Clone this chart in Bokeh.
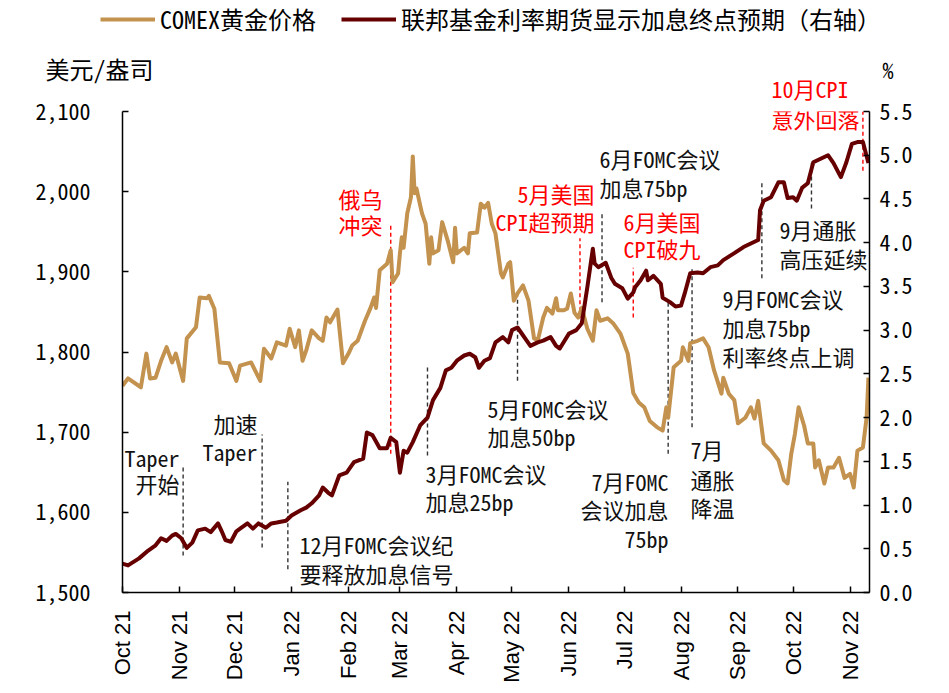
import math
import pandas as pd
from bokeh.plotting import figure
from bokeh.layouts import column
from bokeh.models import (Range1d, LinearAxis, FixedTicker, NumeralTickFormatter,
                          DatetimeTickFormatter, Label, Legend, LegendItem)
from bokeh.embed import file_html
from bokeh.resources import INLINE

# ---------------- data ----------------
gold_dates = ["2021-10-01","2021-10-04","2021-10-11","2021-10-14","2021-10-16","2021-10-19","2021-10-22","2021-10-25","2021-10-28","2021-10-30",
    "2021-11-03","2021-11-05","2021-11-10","2021-11-12","2021-11-16","2021-11-17","2021-11-20","2021-11-23","2021-11-28",
    "2021-12-02","2021-12-04","2021-12-10","2021-12-15","2021-12-17","2021-12-21","2021-12-24","2021-12-29","2021-12-31",
    "2022-01-03","2022-01-05","2022-01-07","2022-01-09","2022-01-12","2022-01-16","2022-01-18","2022-01-20","2022-01-22","2022-01-26","2022-01-29",
    "2022-02-01","2022-02-03","2022-02-06","2022-02-10","2022-02-13","2022-02-15","2022-02-16","2022-02-18","2022-02-22","2022-02-24","2022-02-25","2022-02-28",
    "2022-03-01","2022-03-02","2022-03-03","2022-03-05","2022-03-07","2022-03-08","2022-03-09","2022-03-10","2022-03-13","2022-03-15","2022-03-17","2022-03-18","2022-03-19","2022-03-22","2022-03-24","2022-03-27","2022-03-30","2022-03-31",
    "2022-04-01","2022-04-05","2022-04-07","2022-04-08","2022-04-12","2022-04-14","2022-04-16","2022-04-18","2022-04-20","2022-04-22","2022-04-25","2022-04-26","2022-04-29","2022-04-30",
    "2022-05-02","2022-05-04","2022-05-07","2022-05-10","2022-05-13","2022-05-15","2022-05-18","2022-05-20","2022-05-23","2022-05-25","2022-05-26","2022-05-29","2022-05-31",
    "2022-06-02","2022-06-04","2022-06-06","2022-06-08","2022-06-11","2022-06-14","2022-06-16","2022-06-18","2022-06-22","2022-06-25","2022-06-29",
    "2022-07-03","2022-07-06","2022-07-09","2022-07-12","2022-07-15","2022-07-19","2022-07-22","2022-07-24","2022-07-25","2022-07-28",
    "2022-08-01","2022-08-02","2022-08-05","2022-08-06","2022-08-10","2022-08-13","2022-08-16","2022-08-19","2022-08-23","2022-08-24","2022-08-27","2022-08-30",
    "2022-09-01","2022-09-05","2022-09-08","2022-09-10","2022-09-12","2022-09-15","2022-09-19","2022-09-23","2022-09-26","2022-09-28","2022-09-30",
    "2022-10-02","2022-10-04","2022-10-07","2022-10-09","2022-10-12","2022-10-13","2022-10-15","2022-10-18","2022-10-20","2022-10-23","2022-10-26","2022-10-29",
    "2022-11-01","2022-11-03","2022-11-05","2022-11-08","2022-11-10","2022-11-11"]
gold_price = [1758,1767,1756,1798,1767,1768,1789,1806,1787,1798,
    1764,1817,1831,1868,1867,1870,1854,1787,1786,
    1764,1783,1787,1764,1804,1792,1812,1808,1829,
    1806,1827,1789,1802,1827,1817,1814,1843,1837,1853,1786,
    1798,1808,1814,1839,1855,1868,1855,1902,1910,1927,1887,1898,
    1923,1943,1930,1973,1993,2044,1998,2004,1973,1960,1910,1943,1923,1927,1962,1939,1912,1955,
    1923,1930,1923,1948,1949,1985,1980,1986,1960,1948,1898,1893,1910,1912,
    1864,1873,1883,1864,1817,1814,1843,1855,1848,1867,1852,1852,1854,
    1873,1849,1843,1855,1829,1814,1852,1839,1842,1836,1823,
    1798,1749,1737,1731,1714,1706,1702,1731,1718,1781,
    1789,1806,1789,1811,1814,1817,1806,1777,1748,1768,1748,1740,
    1711,1718,1731,1717,1739,1686,1677,1665,1640,1636,1673,
    1698,1731,1708,1686,1686,1656,1665,1636,1656,1656,1668,1643,
    1648,1631,1677,1681,1718,1768]

rate_dates = ["2021-10-01","2021-10-04","2021-10-10","2021-10-15","2021-10-19","2021-10-22","2021-10-25","2021-10-28","2021-10-30",
    "2021-11-02","2021-11-05","2021-11-08","2021-11-11","2021-11-15","2021-11-18","2021-11-22","2021-11-24","2021-11-26","2021-11-29",
    "2021-12-02","2021-12-04","2021-12-08","2021-12-11","2021-12-14","2021-12-18","2021-12-21","2021-12-24","2021-12-29",
    "2022-01-01","2022-01-06","2022-01-09","2022-01-12","2022-01-16","2022-01-18","2022-01-21","2022-01-23","2022-01-27","2022-01-31",
    "2022-02-04","2022-02-09","2022-02-11","2022-02-14","2022-02-18","2022-02-22","2022-02-24","2022-02-27",
    "2022-03-01","2022-03-03","2022-03-05","2022-03-08","2022-03-12","2022-03-16","2022-03-19","2022-03-23","2022-03-26","2022-03-29",
    "2022-04-01","2022-04-05","2022-04-08","2022-04-11","2022-04-13","2022-04-16","2022-04-19","2022-04-22","2022-04-26","2022-04-29",
    "2022-05-01","2022-05-04","2022-05-06","2022-05-09","2022-05-11","2022-05-15","2022-05-18","2022-05-22","2022-05-25","2022-05-27",
    "2022-06-01","2022-06-05","2022-06-08","2022-06-11","2022-06-14","2022-06-15","2022-06-17","2022-06-21","2022-06-24","2022-06-26","2022-06-30",
    "2022-07-03","2022-07-06","2022-07-07","2022-07-10","2022-07-13","2022-07-14","2022-07-17","2022-07-21","2022-07-22","2022-07-26","2022-07-29",
    "2022-08-01","2022-08-03","2022-08-06","2022-08-10","2022-08-13","2022-08-17","2022-08-21","2022-08-24","2022-08-30",
    "2022-09-04","2022-09-08","2022-09-12","2022-09-13","2022-09-15","2022-09-19","2022-09-23","2022-09-26","2022-09-28",
    "2022-10-01","2022-10-03","2022-10-06","2022-10-09","2022-10-12","2022-10-16","2022-10-20","2022-10-23","2022-10-27","2022-10-30",
    "2022-11-02","2022-11-05","2022-11-08","2022-11-11"]
rate_terminal = [0.33,0.31,0.39,0.48,0.54,0.62,0.59,0.65,0.67,
    0.62,0.51,0.57,0.71,0.73,0.69,0.79,0.70,0.60,0.58,
    0.70,0.73,0.79,0.73,0.79,0.74,0.79,0.80,0.82,
    0.88,0.94,0.97,1.02,1.11,1.20,1.14,1.11,1.34,1.37,
    1.49,1.53,1.83,1.80,1.65,1.65,1.77,1.72,
    1.37,1.62,1.60,1.72,1.91,2.00,2.20,2.34,2.54,2.57,
    2.65,2.71,2.73,2.69,2.57,2.65,2.68,2.86,2.92,2.86,
    3.00,3.03,2.97,2.88,2.82,2.86,2.88,2.92,2.82,2.79,
    2.96,3.00,3.08,3.49,3.93,3.76,3.72,3.77,3.60,3.53,3.48,
    3.36,3.43,3.49,3.57,3.68,3.57,3.62,3.53,3.37,3.32,3.27,
    3.28,3.42,3.65,3.66,3.65,3.72,3.74,3.80,3.88,
    3.95,3.99,4.03,4.37,4.48,4.52,4.69,4.69,4.51,
    4.52,4.48,4.63,4.68,4.92,4.96,5.00,4.91,4.75,4.92,
    5.13,5.15,5.15,4.91]

month_ticks = ["2021-10-01","2021-11-01","2021-12-01","2022-01-01","2022-02-01","2022-03-01","2022-04-01",
               "2022-05-01","2022-06-01","2022-07-01","2022-08-01","2022-09-01","2022-10-01","2022-11-01"]
left_ticks = [1500, 1600, 1700, 1800, 1900, 2000, 2100]
right_ticks = [0.0, 0.5, 1.0, 1.5, 2.0, 2.5, 3.0, 3.5, 4.0, 4.5, 5.0, 5.5]

# event markers: date, from, to (left-axis units), highlighted?
event_dates = ["2021-11-03","2021-12-16","2021-12-30","2022-02-24","2022-03-16","2022-05-04","2022-06-07",
               "2022-06-19","2022-07-06","2022-07-25","2022-08-07","2022-09-14","2022-10-11","2022-11-08"]
event_from = [1546, 1556, 1529, 1673, 1671, 1764, 1842, 1862, 1843, 1673, 1706, 1892, 1979, 2026]
event_to   = [1656, 1697, 1638, 1961, 1782, 1870, 1942, 1973, 1905, 1864, 1905, 2014, 2036, 2100]
event_red  = [False, False, False, True, False, False, True, False, True, False, False, False, False, True]

series_names = ["COMEX黄金价格", "联邦基金利率期货显示加息终点预期（右轴）"]

GOLD = "#C3924F"
DARK = "#660000"
RED = "#FF0000"
INK = "#111111"
FONT = "Noto Sans Mono CJK SC, Noto Sans CJK SC"

W = 938
HEAD_H = 40
MAIN_H = 648

gx = pd.to_datetime(gold_dates)
rx = pd.to_datetime(rate_dates)
ex = pd.to_datetime(event_dates)

# ---------------- header strip (legend) ----------------
head = figure(width=W, height=HEAD_H, output_backend="svg", toolbar_location=None,
              x_axis_location=None, y_axis_location=None,
              x_range=Range1d(0, W), y_range=Range1d(0, HEAD_H),
              min_border_left=0, min_border_right=0, min_border_top=0, min_border_bottom=0)
if "frame_align" in head.properties():
    head.frame_align = False
head.outline_line_color = None
head.grid.visible = False
# legend proxies (series drawn far outside this strip's visible area)
hg = head.line(gx, gold_price, line_color=GOLD, line_width=4)
hr = head.line(rx, rate_terminal, line_color=DARK, line_width=4)
legend = Legend(items=[LegendItem(label=series_names[0], renderers=[hg]),
                       LegendItem(label=series_names[1], renderers=[hr])],
                orientation="horizontal", location=(100, 4), glyph_width=55, glyph_height=28,
                label_height=28, label_standoff=5, spacing=25, padding=0, margin=0,
                border_line_color=None, background_fill_alpha=0,
                label_text_font=FONT, label_text_font_size="24px", label_text_color="black")
head.add_layout(legend)

# ---------------- main chart ----------------
p = figure(width=W, height=MAIN_H, x_axis_type="datetime", output_backend="svg", toolbar_location=None,
           x_range=Range1d(pd.Timestamp("2021-10-01"), pd.Timestamp("2022-11-11 14:00")),
           y_range=Range1d(1500, 2100),
           min_border_left=122, min_border_right=69, min_border_top=71, min_border_bottom=96)
if "frame_align" in p.properties():
    p.frame_align = False
p.outline_line_color = None
p.grid.visible = False
p.extra_y_ranges = {"rate": Range1d(0, 5.5)}

ax_r = LinearAxis(y_range_name="rate")
p.add_layout(ax_r, "right")

def style(ax):
    ax.axis_line_color = "black"
    ax.axis_line_width = 1.5
    ax.major_tick_in = 6
    ax.major_tick_out = 0
    ax.major_tick_line_color = "black"
    ax.major_tick_line_width = 1.5
    ax.minor_tick_line_color = None
    ax.major_label_text_font_size = "22px"
    ax.major_label_text_color = "black"

xa = p.xaxis[0]
ya = p.yaxis[0]
for a in (xa, ya, ax_r):
    style(a)

xa.ticker = FixedTicker(ticks=[int(pd.Timestamp(d).value // 10**6) for d in month_ticks])
xa.formatter = DatetimeTickFormatter(days="%b %y", months="%b %y", years="%b %y")
xa.major_label_orientation = math.pi / 2
xa.major_label_standoff = 18
xa.major_label_text_font = "Liberation Sans"

ya.ticker = FixedTicker(ticks=left_ticks)
ya.formatter = NumeralTickFormatter(format="0,0")
ya.major_label_standoff = 32
ya.major_label_text_font = FONT

ax_r.ticker = FixedTicker(ticks=right_ticks)
ax_r.formatter = NumeralTickFormatter(format="0.0")
ax_r.major_label_standoff = 10
ax_r.major_label_text_font = FONT

# unit captions and the top note, in the margins above the plot area
p.add_layout(Label(x=pd.Timestamp("2021-08-20 02:00"), y=2153.6, text="美元/盎司",
                   text_font=FONT, text_font_size="24px", text_color="black",
                   text_baseline="middle"), "above")
p.add_layout(Label(x=pd.Timestamp("2022-09-19 06:00"), y=2128.7, text="10月CPI",
                   text_font=FONT, text_font_size="22px", text_color=RED,
                   text_baseline="middle"), "above")
p.add_layout(Label(x=pd.Timestamp("2022-11-18 16:00"), y=2153.6, text="%",
                   text_font=FONT, text_font_size="22px", text_color="black",
                   text_baseline="middle"), "right")

# event dashed markers
for d, a, b, hot in zip(ex, event_from, event_to, event_red):
    p.segment(x0=[d], y0=[a], x1=[d], y1=[b], line_color=RED if hot else "#333333",
              line_width=1.4, line_dash="4 3")

r_gold = p.line(gx, gold_price, line_color=GOLD, line_width=4, line_join="round")
r_rate = p.line(rx, rate_terminal, line_color=DARK, line_width=4, line_join="round", y_range_name="rate")

# annotations: (text, sx, sy, align, red) in px from the plot area's lower-left corner
notes = [
    ("Taper", 57, 136, "right", False), ("开始", 57, 110, "right", False),
    ("加速", 135, 170, "right", False), ("Taper", 135, 142, "right", False),
    ("12月FOMC会议纪", 177, 49, "left", False), ("要释放加息信号", 177, 20, "left", False),
    ("俄乌", 216, 395, "left", True), ("冲突", 216, 369, "left", True),
    ("3月FOMC会议", 303, 120, "left", False), ("加息25bp", 303, 92, "left", False),
    ("5月FOMC会议", 365, 185, "left", False), ("加息50bp", 365, 157, "left", False),
    ("5月美国", 472, 400, "right", True), ("CPI超预期", 472, 372, "right", True),
    ("6月FOMC会议", 477, 435, "left", False), ("加息75bp", 477, 406, "left", False),
    ("6月美国", 501, 372, "left", True), ("CPI破九", 501, 345, "left", True),
    ("7月FOMC", 546, 112, "right", False), ("会议加息", 546, 84, "right", False), ("75bp", 546, 55, "right", False),
    ("7月", 568, 144, "left", False), ("通胀", 568, 114, "left", False), ("降温", 568, 86, "left", False),
    ("9月FOMC会议", 600, 295, "left", False), ("加息75bp", 600, 266, "left", False), ("利率终点上调", 600, 237, "left", False),
    ("9月通胀", 657, 364, "left", False), ("高压延续", 657, 335, "left", False),
    ("意外回落", 649, 475, "left", True),
]
for t, sx, sy, al, hot in notes:
    p.add_layout(Label(x=sx, y=sy, x_units="screen", y_units="screen", text=t,
                       text_font=FONT, text_font_size="22px", text_color=RED if hot else INK,
                       text_align=al, text_baseline="middle"))

layout = column(head, p, spacing=0)
open("out.html", "w").write(file_html(layout, INLINE))
